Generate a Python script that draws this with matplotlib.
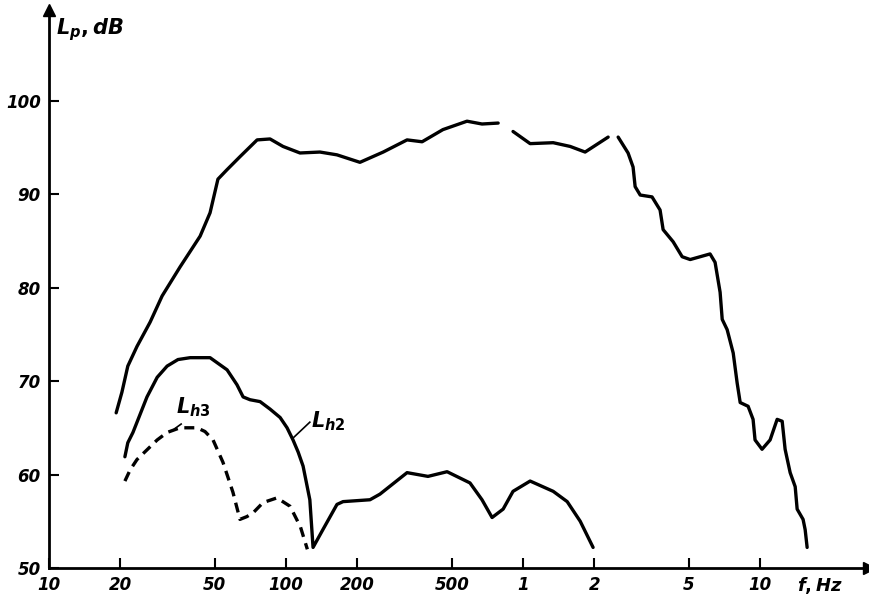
import numpy as np
import matplotlib
matplotlib.use('Agg')
import matplotlib.pyplot as plt

plt.rcParams['mathtext.fontset'] = 'custom'
plt.rcParams['mathtext.it'] = 'DejaVu Sans:italic:bold'
plt.rcParams['mathtext.rm'] = 'DejaVu Sans:bold'

# total sound pressure level (nan = breaks in the original trace)
f_total = [19.2, 20.3, 21.5, 23.5, 26.7, 30.0, 35.7, 43.4, 47.8, 51.6, 56.3, 63.9, 75.5, 85.6,
           97.1, 114.5, 139, 164, 205, 257, 324, 375, 459, 580, 671, 785, np.nan,
           907, 1071, 1340, 1580, 1827, 2285, np.nan,
           2518, 2773, 2911, 2970, 3120, 3500, 3784, 3898, 4297, 4690, 5070, 6150, 6457,
           6780, 6920, 7260, 7700, 8000, 8240, 8900, 9340, 9520, 10190, 11020, 11800,
           12390, 12750, 13390, 14060, 14330, 15180, 15490, 15790]
L_total = [66.6, 68.8, 71.6, 73.7, 76.3, 79.1, 82.2, 85.5, 88.0, 91.6, 92.6, 94.0, 95.8, 95.9,
           95.1, 94.4, 94.5, 94.2, 93.4, 94.5, 95.8, 95.6, 96.9, 97.8, 97.5, 97.6, np.nan,
           96.7, 95.4, 95.5, 95.1, 94.5, 96.1, np.nan,
           96.1, 94.4, 92.9, 90.8, 89.9, 89.7, 88.3, 86.2, 84.9, 83.3, 83.0, 83.6, 82.7,
           79.5, 76.6, 75.5, 73.0, 69.8, 67.7, 67.3, 65.9, 63.7, 62.7, 63.7, 65.9,
           65.7, 62.7, 60.2, 58.7, 56.3, 55.2, 54.1, 52.2]

# second harmonic
f_h2 = [20.9, 21.5, 22.6, 25.9, 28.6, 31.5, 35.0, 39.4, 47.8, 56.4, 62.1, 65.9, 70.5, 77.7,
        85.6, 94.4, 101, 107, 112.5, 118, 126, 130,
        143, 164, 174, 226, 249, 324, 397, 478, 597, 671, 740, 824, 907, 1071, 1340,
        1535, 1742, 1974]
L_h2 = [61.9, 63.4, 64.5, 68.3, 70.4, 71.6, 72.3, 72.5, 72.5, 71.2, 69.6, 68.3, 68.0, 67.8,
        67.0, 66.1, 65.0, 63.7, 62.4, 60.9, 57.3, 52.2,
        54.1, 56.8, 57.1, 57.3, 57.9, 60.2, 59.8, 60.3, 59.1, 57.3, 55.4, 56.3, 58.2, 59.3, 58.2,
        57.1, 55.0, 52.2]

# third harmonic
f_h3 = [20.9, 22.0, 23.5, 28.6, 31.5, 35.7, 39.4, 42.1, 45.5, 49.2, 54.2, 59.7, 63.9, 68.4,
        72.6, 80.0, 91.6, 104, 115, 123]
L_h3 = [59.3, 60.5, 61.6, 63.7, 64.5, 65.0, 65.0, 65.0, 64.6, 63.7, 61.3, 58.1, 55.2, 55.5,
        55.9, 57.0, 57.5, 56.6, 54.4, 52.0]

x_ticks = [10, 20, 50, 100, 200, 500, 1000, 2000, 5000, 10000]
x_labels = ['10', '20', '50', '100', '200', '500', '1', '2', '5', '10']
y_ticks = [50, 60, 70, 80, 90, 100]

fig = plt.figure(figsize=(8.69, 5.97), dpi=100)
ax = fig.add_axes([0.0564, 0.0486, 0.9436, 0.9347])

style = dict(color='black', lw=2.4, solid_capstyle='round', solid_joinstyle='round')
ax.plot(f_total, L_total, **style)
ax.plot(f_h2, L_h2, **style)
ax.plot(f_h3, L_h3, color='black', lw=2.4, ls=(0, (3, 2)))

ax.set_xscale('log')
ax.set_xlim(10, 28800)
ax.set_ylim(50, 109.7)

ax.set_xticks(x_ticks)
ax.set_xticklabels(x_labels)
ax.xaxis.set_minor_locator(matplotlib.ticker.NullLocator())
ax.set_yticks(y_ticks)
ax.tick_params(direction='in', length=7, width=1.5, pad=6)
for lab in ax.get_xticklabels() + ax.get_yticklabels():
    lab.set_fontsize(12)
    lab.set_fontstyle('italic')
    lab.set_fontweight('bold')

for side in ['top', 'right']:
    ax.spines[side].set_visible(False)
for side in ['left', 'bottom']:
    ax.spines[side].set_linewidth(2)

# arrow heads on the axes
ax.plot(1, 0, '>k', ms=8, transform=ax.transAxes, clip_on=False)
ax.plot(0, 1, '^k', ms=8, transform=ax.transAxes, clip_on=False)

ax.text(0.008, 0.965, r'$L_p, dB$', transform=ax.transAxes, fontsize=15, va='center', ha='left')
ax.text(0.912, -0.012, r'$f, Hz$', transform=ax.transAxes, fontsize=13, va='top', ha='left')

# curve labels with leader lines
ax.text(34.5, 65.9, r'$L_{h3}$', fontsize=15, ha='left', va='bottom')
ax.plot([33.9, 36.1], [64.9, 65.4], color='black', lw=1.2)
ax.text(128, 64.4, r'$L_{h2}$', fontsize=15, ha='left', va='bottom')
ax.plot([107, 126], [63.9, 65.6], color='black', lw=1.2)

plt.savefig('out.png', dpi=100)
